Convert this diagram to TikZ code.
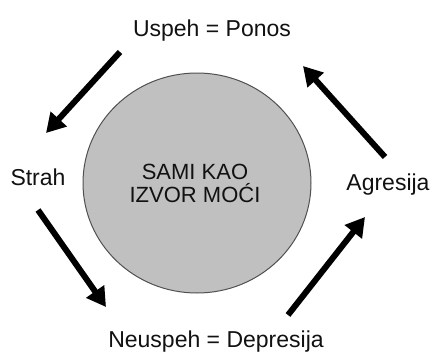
\documentclass[tikz,border=0pt]{standalone}
\usepackage{fontspec}
\setmainfont{Liberation Sans}
\usetikzlibrary{arrows.meta}
\definecolor{discgray}{HTML}{C0C0C0}
\definecolor{rimgray}{HTML}{505050}
\definecolor{inkc}{HTML}{111111}
\begin{document}
\begin{tikzpicture}[x=1pt,y=-1pt,
  lbl/.style={font=\fontsize{23}{27}\selectfont, text=inkc, inner sep=0pt, anchor=base},
  cyc/.style={line width=6pt, draw=black, -{Triangle[length=19pt,width=21pt]}}]
\useasboundingbox (0,0) rectangle (434,354);
\fill[white] (0,0) rectangle (434,354);
% central disc
\draw[fill=discgray, draw=rimgray, line width=1pt] (197,183) ellipse [x radius=114, y radius=110];
\node[font=\fontsize{22}{23}\selectfont, text=inkc, align=center, inner sep=0pt] (core) at (195,183) {SAMI KAO\\IZVOR MOĆI};
% labels
\node[lbl] (uspeh) at (212,36) {Uspeh = Ponos};
\node[lbl] (strah) at (38,185) {Strah};
\node[lbl] (agres) at (388,190) {Agresija};
\node[lbl] (neusp) at (216,347) {Neuspeh = Depresija};
% arrow ends
\coordinate (a1s) at (120,52);  \coordinate (a1e) at (46,133);
\coordinate (a2s) at (38,210);  \coordinate (a2e) at (106,307);
\coordinate (a3s) at (288,315); \coordinate (a3e) at (365,217);
\coordinate (a4s) at (385,157); \coordinate (a4e) at (303,66);
\draw[cyc] (a1s) -- (a1e);
\draw[cyc] (a2s) -- (a2e);
\draw[cyc] (a3s) -- (a3e);
\draw[cyc] (a4s) -- (a4e);
\end{tikzpicture}
\end{document}
